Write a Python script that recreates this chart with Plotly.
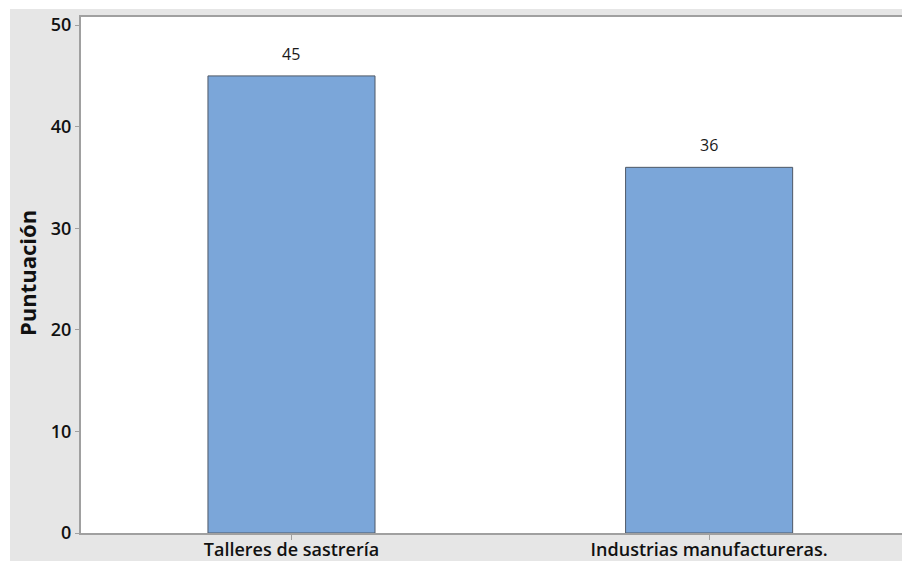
import plotly.graph_objects as go

categories = ["Talleres de sastrería", "Industrias manufactureras."]
values = [45, 36]
y_ticks = [0, 10, 20, 30, 40, 50]

# the page body offsets the figure by 8 px, so the figure is 8 px smaller
W, H = 902, 553
L, T, R, B = 73, 9, 0, 28
pw = W - L - R
ph = H - T - B

def px_x(p):
    return (p - L) / pw

def px_y(p):
    return (H - B - p) / ph

fig = go.Figure()
fig.add_trace(go.Bar(
    x=[0, 1], y=values, width=0.4,
    marker=dict(color="#7BA6D9", line=dict(color="#4F5866", width=1)),
    hoverinfo="skip",
))

for i, v in enumerate(values):
    fig.add_annotation(x=i, y=v, text=str(v), showarrow=False, yshift=22,
                       font=dict(family="Open Sans", size=16, color="#1a1a1a"))

# y-axis title
fig.add_annotation(xref="paper", yref="paper", x=px_x(19), y=px_y(265),
                   xanchor="center", yanchor="middle",
                   text="Puntuación", textangle=-90, showarrow=False,
                   font=dict(family="Open Sans", size=22, color="#111111", weight=700))

# white strips outside the grey chart frame
fig.add_shape(type="rect", xref="paper", yref="paper", layer="below",
              x0=px_x(-5), x1=px_x(2), y0=px_y(H + 5), y1=px_y(-5),
              fillcolor="white", line=dict(width=0))
fig.add_shape(type="rect", xref="paper", yref="paper", layer="below",
              x0=px_x(-5), x1=px_x(W + 5), y0=px_y(1), y1=px_y(-5),
              fillcolor="white", line=dict(width=0))

fig.update_layout(
    width=W, height=H,
    margin=dict(l=L, r=R, t=T, b=B, pad=0),
    paper_bgcolor="#E6E6E6", plot_bgcolor="white",
    showlegend=False, bargap=0.6,
    xaxis=dict(
        range=[-0.504, 1.481], tickvals=[0, 1], ticktext=categories,
        showgrid=False, zeroline=False, automargin=False,
        showline=True, linecolor="#A0A0A0", linewidth=2, mirror=True,
        ticks="outside", ticklen=5, tickcolor="#A0A0A0", tickwidth=1,
        ticklabelstandoff=-6,
        tickfont=dict(family="Open Sans", size=18, color="#111111", weight=600),
    ),
    yaxis=dict(
        range=[0, 50.8], tickvals=y_ticks,
        showgrid=False, zeroline=False, automargin=False,
        showline=True, linecolor="#A0A0A0", linewidth=2,
        ticks="outside", ticklen=4, tickcolor="#A0A0A0", tickwidth=1,
        tickfont=dict(family="Open Sans", size=18, color="#111111", weight=600),
    ),
)

fig.write_html("out.html")
